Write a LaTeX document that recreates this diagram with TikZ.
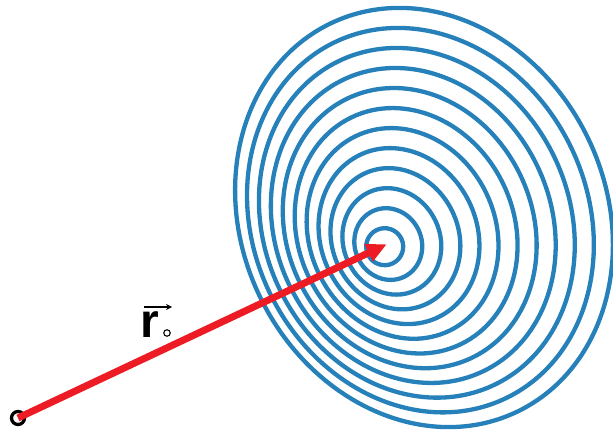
\documentclass[tikz,border=0pt]{standalone}
\usepackage{fontspec}
\newfontfamily\labfont{Liberation Sans}
\usetikzlibrary{arrows.meta}
\definecolor{ringblue}{RGB}{38,128,185}
\definecolor{arrred}{RGB}{237,28,36}
\begin{document}
\begin{tikzpicture}[x=1pt,y=1pt,
  ring/.style={draw=ringblue, line width=4.3pt},
  posvec/.style={draw=arrred, line width=7pt, -{Triangle[length=20pt,width=18pt]}},
  origin/.style={circle, draw=black, line width=3.3pt, minimum size=13pt, inner sep=0pt},
  labtext/.style={font=\labfont\bfseries\fontsize{48}{48}\selectfont, inner sep=0pt, anchor=base west}]
\useasboundingbox (0,0) rectangle (613,429);
% rings: interpolate between inner circle and outer tilted ellipse
\foreach \k in {0,...,11}{
  \pgfmathsetmacro{\t}{\k/11}
  \pgfmathsetmacro{\cx}{384.7+\t*(424.0-384.7)}
  \pgfmathsetmacro{\cy}{182.3+\t*(211.5-182.3)}
  \pgfmathsetmacro{\ra}{18.5+\t*(182.2-18.5)}
  \pgfmathsetmacro{\rb}{18.5+\t*(215.4-18.5)}
  \draw[ring, rotate around={25.7:(\cx,\cy)}] (\cx,\cy) ellipse [x radius=\ra, y radius=\rb];
}
\coordinate (c) at (386.7,184.7);
\node[origin] (o) at (18,11) {};
\draw[posvec] (o.center) -- (c);
% label
\node[labtext] (r) at (140.7,92) {r};
\coordinate (va) at (144,122);
\coordinate (vb) at (172,122);
\draw[line width=1.7pt, -{Stealth[length=6pt,width=6pt]}] (va) -- (vb);
\node[circle, draw=black, line width=1.1pt, minimum size=6.5pt, inner sep=0pt] (sub) at (167,96) {};
\end{tikzpicture}
\end{document}
